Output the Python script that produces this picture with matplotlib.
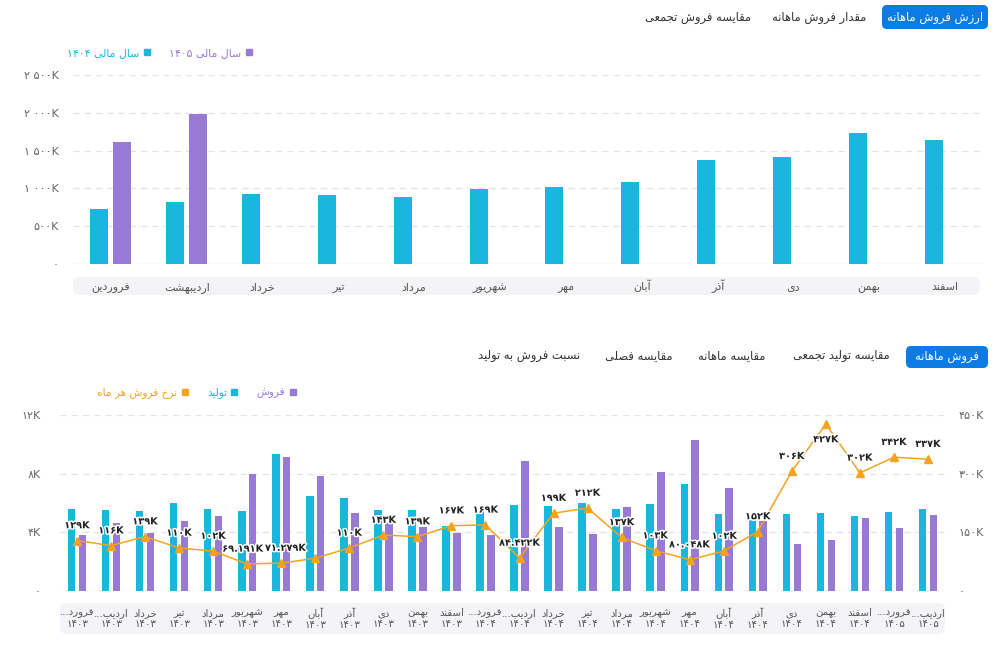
import re
import matplotlib
matplotlib.use('Agg')
import matplotlib.pyplot as plt
import numpy as np
from matplotlib.patches import FancyBboxPatch
from matplotlib.lines import Line2D
import matplotlib.patheffects as pe

plt.rcParams['font.family'] = ['DejaVu Sans']

# ---------------- data ----------------
months = ['فروردین', 'اردیبهشت', 'خرداد', 'تیر', 'مرداد', 'شهریور',
          'مهر', 'آبان', 'آذر', 'دی', 'بهمن', 'اسفند']
value_1404 = [729, 822, 928, 915, 885, 991, 1021, 1088, 1379, 1419, 1737, 1645]
value_1405 = [1609, 1989]          # only first two months available
top_ticks = [0, 500, 1000, 1500, 2000, 2500]
legend_top = ['سال مالی 1404', 'سال مالی 1405']

period_months = months + months + ['فروردین', 'اردیبهشت']
period_years = ['1403'] * 12 + ['1404'] * 12 + ['1405'] * 2
production = [5.56, 5.49, 5.44, 5.99, 5.56, 5.44, 9.36, 6.46, 6.35, 5.49, 5.49, 4.45,
              5.51, 5.85, 5.78, 5.97, 5.56, 5.92, 7.32, 5.24, 4.83, 5.24, 5.31, 5.13,
              5.42, 5.56]
sales = [3.84, 4.63, 3.95, 4.77, 5.13, 8.00, 9.15, 7.82, 5.31, 4.61, 4.38, 3.95,
         3.80, 8.83, 4.38, 3.88, 5.72, 8.11, 10.30, 7.00, 4.79, 3.20, 3.48, 4.95,
         4.27, 5.17]
rate = [129, 116, 139, 110, 102, 69.191, 71.279, 83.6, 110, 143, 139, 167,
        169, 84.422, 199, 212, 137, 103, 80.048, 102, 152, 306, 427, 302, 342, 337]
rate_hidden_labels = [7]
left_ticks = [0, 4, 8, 12]
right_ticks = [0, 150, 300, 450]
legend_bottom = ['نرخ فروش هر ماه', 'تولید', 'فروش']

tabs_top = ['ارزش فروش ماهانه', 'مقدار فروش ماهانه', 'مقایسه فروش تجمعی']
tabs_bottom = ['فروش ماهانه', 'مقایسه تولید تجمعی', 'مقایسه ماهانه',
               'مقایسه فصلی', 'نسبت فروش به تولید']

# ---------------- colours ----------------
CYAN = '#1BB6DD'
PURPLE = '#9879D3'
ORANGE = '#F5A31F'
BLUE = '#0B7BE5'
BAND = '#F3F3F8'
GRID = '#E2E2EA'

# ---------------- Persian text helpers ----------------
FORMS = {
    'ا': ('\uFE8D', '\uFE8E', None, None),
    'آ': ('\uFE81', '\uFE82', None, None),
    'ب': ('\uFE8F', '\uFE90', '\uFE91', '\uFE92'),
    'ت': ('\uFE95', '\uFE96', '\uFE97', '\uFE98'),
    'ج': ('\uFE9D', '\uFE9E', '\uFE9F', '\uFEA0'),
    'خ': ('\uFEA5', '\uFEA6', '\uFEA7', '\uFEA8'),
    'د': ('\uFEA9', '\uFEAA', None, None),
    'ذ': ('\uFEAB', '\uFEAC', None, None),
    'ر': ('\uFEAD', '\uFEAE', None, None),
    'ز': ('\uFEAF', '\uFEB0', None, None),
    'س': ('\uFEB1', '\uFEB2', '\uFEB3', '\uFEB4'),
    'ش': ('\uFEB5', '\uFEB6', '\uFEB7', '\uFEB8'),
    'ص': ('\uFEB9', '\uFEBA', '\uFEBB', '\uFEBC'),
    'ع': ('\uFEC9', '\uFECA', '\uFECB', '\uFECC'),
    'ف': ('\uFED1', '\uFED2', '\uFED3', '\uFED4'),
    'ق': ('\uFED5', '\uFED6', '\uFED7', '\uFED8'),
    'ل': ('\uFEDD', '\uFEDE', '\uFEDF', '\uFEE0'),
    'م': ('\uFEE1', '\uFEE2', '\uFEE3', '\uFEE4'),
    'ن': ('\uFEE5', '\uFEE6', '\uFEE7', '\uFEE8'),
    'ه': ('\uFEE9', '\uFEEA', '\uFEEB', '\uFEEC'),
    'و': ('\uFEED', '\uFEEE', None, None),
    'ی': ('\uFEEF', '\uFEF0', '\uFEF3', '\uFEF4'),
}
LAMALEF = {'ا': ('\uFEFB', '\uFEFC'), 'آ': ('\uFEF5', '\uFEF6')}
FA_DIGITS = str.maketrans('0123456789', '۰۱۲۳۴۵۶۷۸۹')


def shape(text):
    ch = list(text)
    n = len(ch)
    out = []
    i = 0
    while i < n:
        c = ch[i]
        if c in FORMS:
            prev = i > 0 and ch[i - 1] in FORMS and FORMS[ch[i - 1]][2] is not None
            if c == 'ل' and i + 1 < n and ch[i + 1] in LAMALEF:
                iso, fin = LAMALEF[ch[i + 1]]
                out.append(fin if prev else iso)
                i += 2
                continue
            nxt = i + 1 < n and ch[i + 1] in FORMS
            iso, fin, ini, med = FORMS[c]
            if ini is None:
                out.append(fin if prev else iso)
            elif prev and nxt:
                out.append(med)
            elif prev:
                out.append(fin)
            elif nxt:
                out.append(ini)
            else:
                out.append(iso)
        else:
            out.append(c)
        i += 1
    return ''.join(out)


def T(s):
    s = s.translate(FA_DIGITS)
    if not any(c in FORMS for c in s):
        return s
    v = shape(s)[::-1]
    v = re.sub(r'[0-9۰-۹A-Za-z]+(?:[.,][0-9۰-۹A-Za-z]+)*', lambda m: m.group()[::-1], v)
    return v


def fmt_k(v):
    if v == 0:
        return T('0')
    if float(v).is_integer():
        s = f'{int(v):,}'.replace(',', ' ')
    else:
        s = f'{v:.3f}'
    return T(s) + 'K'


def short(name):
    return name if len(name) <= 6 else name[:5] + '...'


# ---------------- figure ----------------
W, H = 994, 654
fig = plt.figure(figsize=(W / 100, H / 100), dpi=100)
fig.patch.set_facecolor('white')


def rbox(x0, y0, x1, y1, color, r):
    p = FancyBboxPatch((x0 / 100, (H - y1) / 100), (x1 - x0) / 100, (y1 - y0) / 100,
                       boxstyle=f'round,pad=0,rounding_size={r / 100}',
                       transform=fig.dpi_scale_trans, fc=color, ec='none', zorder=0)
    fig.add_artist(p)


def ftext(x, y, s, **kw):
    fig.text(x / W, 1 - y / H, s, va='center', ha='center', **kw)


# tabs (top)
rbox(882, 5, 988, 29, BLUE, 5)
ftext(935, 17, T(tabs_top[0]), color='white', fontsize=8.3)
ftext(819, 17, T(tabs_top[1]), color='#333333', fontsize=8.3)
ftext(698, 17, T(tabs_top[2]), color='#333333', fontsize=8.3)

# tabs (bottom)
rbox(906, 346, 988, 368, BLUE, 5)
ftext(947, 357, T(tabs_bottom[0]), color='white', fontsize=8.3)
for cx, t in zip([841, 732, 639, 529], tabs_bottom[1:]):
    ftext(cx, 356, T(t), color='#333333', fontsize=8.3)

# label bands
rbox(73, 277, 980, 295, BAND, 7)
rbox(60, 603, 945, 634, BAND, 7)


def ax_rect(x0, y0, x1, y1):
    return [x0 / W, 1 - y1 / H, (x1 - x0) / W, (y1 - y0) / H]


# ---------------- top chart ----------------
ax1 = fig.add_axes(ax_rect(73, 75, 983, 264))
ax1.set_facecolor('none')
x = np.arange(len(months))
bw, off = 0.237, 0.152
ax1.bar(x - off, value_1404, width=bw, color=CYAN, zorder=3)
ax1.bar(x[:len(value_1405)] + off, value_1405, width=bw, color=PURPLE, zorder=3)
ax1.set_xlim(-0.5, len(months) - 0.5)
ax1.set_ylim(0, 2500)
ax1.set_yticks(top_ticks)
ax1.set_yticklabels([fmt_k(v) for v in top_ticks], color='#666666', fontsize=8)
ax1.set_xticks(x)
ax1.set_xticklabels([T(m) for m in months], color='#555555', fontsize=8)
for lbl in ax1.get_xticklabels():
    lbl.set_va('baseline')
ax1.tick_params(axis='x', length=0, pad=18.5)
ax1.tick_params(axis='y', length=0, pad=10)
for sp in ax1.spines.values():
    sp.set_visible(False)
for v in top_ticks[1:]:
    ax1.axhline(v, color=GRID, lw=0.9, ls=(0, (5, 4)), zorder=1)
ax1.axhline(0, color=GRID, lw=1.0, zorder=1)

h_top = [Line2D([], [], marker='s', ls='', color=CYAN, markersize=4.5),
         Line2D([], [], marker='s', ls='', color=PURPLE, markersize=4.5)]
leg1 = ax1.legend(h_top, [T(s) for s in legend_top], ncols=2, markerfirst=False,
                  frameon=False, loc='center left',
                  bbox_to_anchor=(62 / W, 1 - 53 / H), bbox_transform=fig.transFigure,
                  fontsize=7.8, handletextpad=0.3, columnspacing=1.6, borderpad=0,
                  labelcolor=[CYAN, PURPLE], handlelength=0.8)

# ---------------- bottom chart ----------------
ax2 = fig.add_axes(ax_rect(60, 415, 945, 591))
ax2.set_facecolor('none')
xb = np.arange(len(period_months))
bw2, off2 = 0.22, 0.16
ax2.bar(xb - off2, production, width=bw2, color=CYAN, zorder=3)
ax2.bar(xb + off2, sales, width=bw2, color=PURPLE, zorder=3)
ax2.set_xlim(-0.5, len(period_months) - 0.5)
ax2.set_ylim(0, 12)
ax2.set_yticks(left_ticks)
ax2.set_yticklabels([fmt_k(v) for v in left_ticks], color='#666666', fontsize=8)
ax2.set_xticks(xb)
ax2.set_xticklabels([T(short(m)) + '\n' + T(y) for m, y in zip(period_months, period_years)],
                    color='#555555', fontsize=7.3, linespacing=1.1)
for lbl in ax2.get_xticklabels():
    lbl.set_va('center')
ax2.tick_params(axis='x', length=0, pad=20)
ax2.tick_params(axis='y', length=0, pad=14)
for sp in ax2.spines.values():
    sp.set_visible(False)
for v in left_ticks[1:]:
    ax2.axhline(v, color=GRID, lw=0.9, ls=(0, (5, 4)), zorder=1)
ax2.axhline(0, color=GRID, lw=1.0, zorder=1)

ax3 = ax2.twinx()
ax3.plot(xb, rate, color=ORANGE, lw=1.1, marker='^', markersize=6, zorder=5)
ax3.set_ylim(0, 450)
ax3.set_yticks(right_ticks)
ax3.set_yticklabels([fmt_k(v) for v in right_ticks], color='#666666', fontsize=8)
ax3.tick_params(axis='y', length=0, pad=10)
for sp in ax3.spines.values():
    sp.set_visible(False)
stroke = [pe.withStroke(linewidth=2.2, foreground='white')]
labels = []
for i, v in enumerate(rate):
    if i in rate_hidden_labels:
        continue
    dy = 11 if v < 400 else -11
    a = ax3.annotate(fmt_k(v), (xb[i], v), xytext=(0, dy), textcoords='offset points',
                     ha='center', va='center', fontsize=7.0, fontweight='bold',
                     color='#222222', path_effects=stroke, zorder=6)
    labels.append(a)

h_bot = [Line2D([], [], marker='s', ls='', color=ORANGE, markersize=4.5),
         Line2D([], [], marker='s', ls='', color=CYAN, markersize=4.5),
         Line2D([], [], marker='s', ls='', color=PURPLE, markersize=4.5)]
ax3.legend(h_bot, [T(s) for s in legend_bottom], ncols=3, markerfirst=False,
           frameon=False, loc='center left',
           bbox_to_anchor=(92 / W, 1 - 393 / H), bbox_transform=fig.transFigure,
           fontsize=7.6, handletextpad=0.3, columnspacing=1.7, borderpad=0,
           labelcolor=[ORANGE, CYAN, PURPLE], handlelength=0.8)

# nudge neighbouring data labels apart where they collide
fig.canvas.draw()
rend = fig.canvas.get_renderer()
for a, b in zip(labels[:-1], labels[1:]):
    ea, eb = a.get_window_extent(rend), b.get_window_extent(rend)
    if ea.y1 > eb.y0 and eb.y1 > ea.y0:
        ov = ea.x1 - eb.x0 + 1.5
        if ov > 0:
            sh = ov / 2 * 72 / 100
            xa, ya = a.xyann
            xb_, yb = b.xyann
            a.xyann = (xa - sh, ya)
            b.xyann = (xb_ + sh, yb)

fig.savefig('out.png', dpi=100)
